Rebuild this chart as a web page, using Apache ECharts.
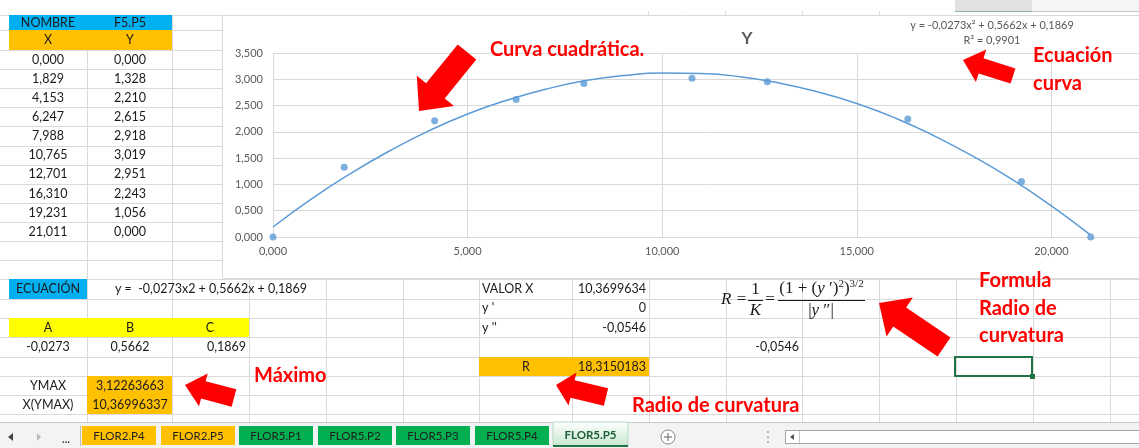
<!DOCTYPE html>
<html>
<head>
<meta charset="utf-8">
<script src="https://cdn.jsdelivr.net/npm/echarts@6/dist/echarts.min.js"></script>
<style>
  html, body { margin: 0; padding: 0; background: #fff; }
  #main { width: 1139px; height: 448px; }
</style>
</head>
<body>
<div id="main"></div>
<script>
// datos hoja FLOR5.P5
const xVals = [0, 1.829, 4.153, 6.247, 7.988, 10.765, 12.701, 16.310, 19.231, 21.011];
const yVals = [0, 1.328, 2.210, 2.615, 2.918, 3.019, 2.951, 2.243, 1.056, 0];
// linea de tendencia
const trendX = [0, 1, 2, 3, 4, 5, 6, 7, 8, 9, 10, 11, 12, 13, 14, 15, 16, 17, 18, 19, 20, 21];
const trendY = [0.19, 0.73, 1.21, 1.64, 2.02, 2.34, 2.60, 2.81, 2.97, 3.07, 3.12, 3.11,
  3.05, 2.93, 2.76, 2.54, 2.26, 1.92, 1.53, 1.09, 0.59, 0.04];
const coefNames = ['A', 'B', 'C'];
const coefVals = ['-0,0273', '0,5662', '0,1869'];
const maxRows = [['YMAX', '3,12263663'], ['X(YMAX)', '10,36996337']];
const curvRows = [['VALOR X', '10,3699634'], ["y '", '0'], ["y ''", '-0,0546']];
const radius = '18,3150183';
const sheetTabs = ['FLOR2.P4', 'FLOR2.P5', 'FLOR5.P1', 'FLOR5.P2', 'FLOR5.P3', 'FLOR5.P4', 'FLOR5.P5'];
const tabColors = ['#ffc000', '#ffc000', '#00b050', '#00b050', '#00b050', '#00b050', null];

const fmt3 = v => v.toFixed(3).replace('.', ',');
const GRID = '#dadada';
const TXT = '#1a1a1a';

let els = [];
const line = (x1, y1, x2, y2, c, w, z) => els.push({ type: 'line', silent: true, z: z == null ? -8 : z,
  shape: { x1, y1, x2, y2 }, style: { stroke: c || GRID, lineWidth: w || 1 } });
const rect = (x, y, w, h, fill, z, stroke) => els.push({ type: 'rect', silent: true, z: z == null ? -7 : z,
  shape: { x, y, width: w, height: h }, style: { fill, stroke: stroke || null } });
const text = (x, y, s, o) => {
  o = o || {};
  els.push({ type: 'text', silent: true, z: o.z == null ? 5 : o.z, x, y,
    style: { text: s, fill: o.color || TXT, font: o.font || '12.5px Lato',
      textAlign: o.align || 'center', textVerticalAlign: 'middle', rich: o.rich } });
};
// flecha roja
const arrow = (tail, tip, sw, hw, hl) => {
  const dx = tip[0] - tail[0], dy = tip[1] - tail[1], L = Math.hypot(dx, dy);
  const ux = dx / L, uy = dy / L, nx = -uy, ny = ux;
  const bx = tip[0] - ux * hl, by = tip[1] - uy * hl;
  els.push({ type: 'polygon', silent: true, z: 20, shape: { points: [
    [tail[0] + nx * sw, tail[1] + ny * sw], [bx + nx * sw, by + ny * sw], [bx + nx * hw, by + ny * hw],
    tip, [bx - nx * hw, by - ny * hw], [bx - nx * sw, by - ny * sw], [tail[0] - nx * sw, tail[1] - ny * sw]
  ] }, style: { fill: '#ff0000' } });
};

// --- rejilla de la hoja ---
const topRows = [15, 30, 50];
for (let i = 1; i <= 12; i++) topRows.push(50 + i * 19.1);
topRows.forEach(y => line(0, Math.round(y) + 0.5, 222, Math.round(y) + 0.5));
[87, 172].forEach(x => line(x + 0.5, 15, x + 0.5, 279));
const lowRows = [279, 299, 318, 337, 357, 376, 395, 414];
lowRows.forEach(y => line(0, y + 0.5, 1139, y + 0.5));
const colX = [87, 172, 249, 326, 403, 479, 572, 649, 726, 802, 879, 956, 1033, 1110];
colX.forEach(x => line(x + 0.5, 279, x + 0.5, 422));
[648, 725, 802, 879].forEach(x => line(x + 0.5, 11, x + 0.5, 15));
// cabecera de columna arriba a la derecha
rect(955, 0, 77, 11, '#e1e1e1');
line(955, 10.5, 1032, 10.5, '#217346', 2);
rect(1032, 0, 107, 11, '#f5f5f5');
line(1032, 11.5, 1139, 11.5, '#c6c6c6');
[1032.5, 1110.5].forEach(x => line(x, 0, x, 12, '#c6c6c6'));

// area del grafico
rect(222.5, 15.5, 1000, 263, '#ffffff', -6, '#d9d9d9');

// celdas con color
rect(9, 15, 163, 15, '#00b0f0');
rect(9, 30, 163, 20, '#ffc000');
rect(9, 279, 78, 20, '#00b0f0');
rect(9, 318, 240, 19, '#ffff00');
rect(87, 376, 85, 38, '#ffc000');
rect(479, 357, 170, 19, '#ffc000');

// textos tabla superior
text(48, 22.5, 'NOMBRE');
text(130, 22.5, 'F5.P5');
text(48, 40, 'X');
text(130, 40, 'Y');
xVals.forEach((v, i) => {
  const y = 50 + i * 19.1 + 9.8;
  text(48, y, fmt3(v));
  text(130, y, fmt3(yVals[i]));
});

// textos parte inferior
text(48, 289, 'ECUACIÓN');
text(211, 289, 'y =  -0,0273x2 + 0,5662x + 0,1869');
coefNames.forEach((n, i) => text([48, 130, 210][i], 327.5, n));
text(48, 347, coefVals[0]);
text(130, 347, coefVals[1]);
text(246, 347, coefVals[2], { align: 'right' });
maxRows.forEach((r, i) => {
  text(48, 385.5 + i * 19, r[0]);
  text(130, 385.5 + i * 19, r[1]);
});
curvRows.forEach((r, i) => {
  text(482, 289 + i * 19.3, r[0], { align: 'left' });
  text(646, 289 + i * 19.3, r[1], { align: 'right' });
});
text(799, 347, '-0,0546', { align: 'right' });
text(526, 366.5, 'R');
text(646, 366.5, radius, { align: 'right' });

// formula radio de curvatura
const serif = { a: { fontFamily: 'Liberation Serif', fontSize: 17, lineHeight: 20, fill: TXT },
  i: { fontFamily: 'Liberation Serif', fontSize: 17, fontStyle: 'italic', lineHeight: 20, fill: TXT },
  s: { fontFamily: 'Liberation Serif', fontSize: 11, lineHeight: 11, verticalAlign: 'top', fill: TXT } };
text(721, 300, '{i|R}', { align: 'left', rich: serif });
text(741.5, 300, '{a|=}', { rich: serif });
text(755.5, 290, '{a|1}', { rich: serif });
text(755.5, 311, '{i|K}', { rich: serif });
line(748, 300.5, 763, 300.5, TXT, 1, 5);
text(770, 300, '{a|=}', { rich: serif });
text(821.5, 289, '{a|(1 + (}{i|y}{a| ′)}{s|2}{a|)}{s|3/2}', { rich: serif });
line(778, 300.5, 865, 300.5, TXT, 1, 5);
text(821, 311, '{a||}{i|y}{a| ″|}', { rich: serif });

// celda seleccionada
rect(955, 357, 77, 19, 'rgba(0,0,0,0)', 6, '#217346');
els[els.length - 1].style.lineWidth = 2;
rect(1030, 374, 5, 5, '#217346', 7);

// barra de pestañas
rect(0, 422, 1139, 26, '#f3f3f3', 8);
line(0, 422.5, 1139, 422.5, '#c8c8c8', 1, 9);
els.push({ type: 'polygon', z: 10, shape: { points: [[8, 437], [13, 433], [13, 441]] }, style: { fill: '#444' } });
els.push({ type: 'polygon', z: 10, shape: { points: [[41, 437], [37, 433], [37, 441]] }, style: { fill: '#bbb' } });
text(66, 439, '...', { font: 'bold 11px Lato', color: '#444', z: 10 });
line(80.5, 426, 80.5, 446, '#bdbdbd', 1, 10);
sheetTabs.forEach((name, i) => {
  const x = Math.round(82 + i * 78.5);
  if (tabColors[i]) {
    rect(x, 426, 74, 19, tabColors[i], 10);
    text(x + 37, 436, name, { font: '11.5px Lato', color: '#1d1d1d', z: 11 });
  } else {
    els.push({ type: 'rect', z: 10, shape: { x: x, y: 422, width: 75, height: 24 },
      style: { fill: new echarts.graphic.LinearGradient(0, 0, 0, 1, [
        { offset: 0, color: '#ffffff' }, { offset: 1, color: '#c5e8cf' }]), stroke: '#b9d9c2' } });
    line(x, 446, x + 75, 446, '#217346', 2, 11);
    text(x + 37.5, 435, name, { font: 'bold 11.5px Lato', color: '#1e5c35', z: 11 });
  }
});
els.push({ type: 'circle', z: 10, shape: { cx: 668, cy: 437, r: 7 }, style: { fill: '#fff', stroke: '#888' } });
line(664, 437, 672, 437, '#777', 1.2, 11);
line(668, 433, 668, 441, '#777', 1.2, 11);
[432, 437, 442].forEach(y => els.push({ type: 'circle', z: 10, shape: { cx: 768, cy: y, r: 0.9 }, style: { fill: '#999' } }));
rect(785.5, 430.5, 360, 13, '#ffffff', 10, '#a6a6a6');
line(799.5, 431, 799.5, 443, '#c8c8c8', 1, 11);
els.push({ type: 'polygon', z: 11, shape: { points: [[790, 437], [794, 434], [794, 440]] }, style: { fill: '#555' } });

// flechas y notas en rojo
arrow([467, 52], [419, 111], 12, 24, 26);
arrow([1013, 76], [963, 60], 8, 17, 19);
arrow([234, 398], [185, 385], 9, 17, 19);
arrow([606, 397], [556, 385], 9, 17, 17);
arrow([944, 347], [879, 303], 11.5, 23.5, 25);
const RED = { font: 'bold 20px Lato', color: '#ff0000', align: 'left', z: 21 };
text(490, 50, 'Curva cuadrática.', RED);
text(1033, 56, 'Ecuación', RED);
text(1033, 84, 'curva', RED);
text(254, 376, 'Máximo', RED);
text(632, 406, 'Radio de curvatura', RED);
text(979, 281, 'Formula', RED);
text(979, 309, 'Radio de', RED);
text(979, 336, 'curvatura', RED);

// titulo y ecuacion del grafico
text(747, 39, 'Y', { font: 'bold 17px Lato', color: '#595959' });
text(992, 25, 'y = -0,0273x² + 0,5662x + 0,1869', { font: '11px Lato', color: '#595959' });
text(992, 40, 'R² = 0,9901', { font: '11px Lato', color: '#595959' });

const chart = echarts.init(document.getElementById('main'));
chart.setOption({
  animation: false,
  backgroundColor: '#ffffff',
  grid: { left: 273, top: 53, width: 973, height: 184, containLabel: false, outerBoundsMode: 'none' },
  xAxis: {
    type: 'value', min: 0, max: 25, interval: 5,
    axisLine: { show: false }, axisTick: { show: false },
    splitLine: { lineStyle: { color: '#d9d9d9' } },
    axisLabel: { formatter: fmt3, color: '#595959', fontSize: 11, fontFamily: 'Lato', margin: 9,
      alignMinLabel: 'center' }
  },
  yAxis: {
    type: 'value', min: 0, max: 3.5, interval: 0.5,
    axisLine: { show: false }, axisTick: { show: false },
    splitLine: { lineStyle: { color: '#d9d9d9' } },
    axisLabel: { formatter: fmt3, color: '#595959', fontSize: 11, fontFamily: 'Lato', margin: 10 }
  },
  series: [
    {
      name: 'tendencia', type: 'line', smooth: true, showSymbol: false, z: 2,
      lineStyle: { color: '#5b9bd5', width: 1.5 },
      data: trendX.map((x, i) => [x, trendY[i]])
    },
    {
      name: 'Y', type: 'scatter', symbolSize: 7, z: 3,
      itemStyle: { color: '#5b9bd5' },
      data: xVals.map((x, i) => [x, yVals[i]])
    }
  ],
  graphic: { elements: els }
});
</script>
</body>
</html>
